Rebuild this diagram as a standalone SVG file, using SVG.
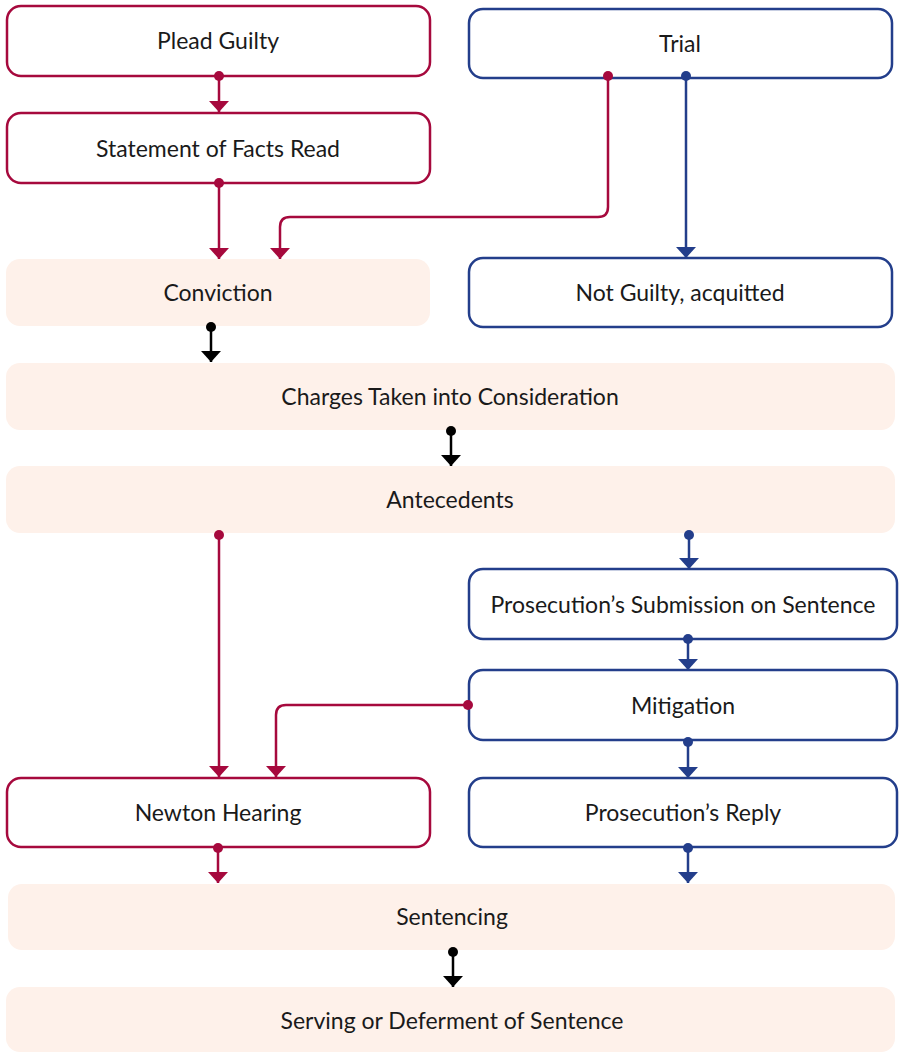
<svg xmlns="http://www.w3.org/2000/svg" width="900" height="1053" viewBox="0 0 900 1053">
<style>
.r{fill:#fff;stroke:#A6093D;stroke-width:2.5}
.b{fill:#fff;stroke:#233E8B;stroke-width:2.5}
.f{fill:#FEF1EA;stroke:none}
text{font-family:Lato,"Open Sans","Liberation Sans",sans-serif;font-size:23px;fill:#1a1a1a;text-anchor:middle;dominant-baseline:central}
.cr{fill:none;stroke:#A6093D;stroke-width:2.5}
.cb{fill:none;stroke:#233E8B;stroke-width:2.5}
.ck{fill:none;stroke:#000;stroke-width:2.5}
</style>
<defs>
<marker id="arR" viewBox="0 -11 12 22" refX="11" refY="0" markerWidth="12" markerHeight="22" markerUnits="userSpaceOnUse" orient="auto"><path d="M0,-10 L11,0 L0,10 z" fill="#A6093D"/></marker>
<marker id="arB" viewBox="0 -11 12 22" refX="11" refY="0" markerWidth="12" markerHeight="22" markerUnits="userSpaceOnUse" orient="auto"><path d="M0,-10 L11,0 L0,10 z" fill="#233E8B"/></marker>
<marker id="arK" viewBox="0 -11 12 22" refX="11" refY="0" markerWidth="12" markerHeight="22" markerUnits="userSpaceOnUse" orient="auto"><path d="M0,-10 L11,0 L0,10 z" fill="#000"/></marker>
<marker id="dR" viewBox="-6 -6 12 12" refX="0" refY="0" markerWidth="12" markerHeight="12" markerUnits="userSpaceOnUse"><circle r="5" fill="#A6093D"/></marker>
<marker id="dB" viewBox="-6 -6 12 12" refX="0" refY="0" markerWidth="12" markerHeight="12" markerUnits="userSpaceOnUse"><circle r="5" fill="#233E8B"/></marker>
<marker id="dK" viewBox="-6 -6 12 12" refX="0" refY="0" markerWidth="12" markerHeight="12" markerUnits="userSpaceOnUse"><circle r="5" fill="#000"/></marker>
</defs>
<g id="plead-guilty"><rect class="r" x="7" y="6" width="423" height="70" rx="14"/><text x="218" y="40">Plead Guilty</text></g>
<g id="trial"><rect class="b" x="469" y="9" width="423" height="69" rx="14"/><text x="680" y="43">Trial</text></g>
<g id="statement"><rect class="r" x="7" y="113" width="423" height="70" rx="14"/><text x="218" y="148">Statement of Facts Read</text></g>
<g id="conviction"><rect class="f" x="6" y="259" width="424" height="67" rx="14"/><text x="218" y="292">Conviction</text></g>
<g id="not-guilty"><rect class="b" x="469" y="258" width="423" height="69" rx="14"/><text x="680" y="292">Not Guilty, acquitted</text></g>
<g id="charges"><rect class="f" x="6" y="363" width="889" height="67" rx="14"/><text x="450" y="396">Charges Taken into Consideration</text></g>
<g id="antecedents"><rect class="f" x="6" y="466" width="889" height="67" rx="14"/><text x="450" y="499">Antecedents</text></g>
<g id="prosecution-submission"><rect class="b" x="469" y="569" width="428" height="70" rx="14"/><text x="683" y="604">Prosecution’s Submission on Sentence</text></g>
<g id="mitigation"><rect class="b" x="469" y="670" width="428" height="70" rx="14"/><text x="683" y="705">Mitigation</text></g>
<g id="newton-hearing"><rect class="r" x="7" y="778" width="423" height="69" rx="14"/><text x="218" y="812">Newton Hearing</text></g>
<g id="prosecution-reply"><rect class="b" x="469" y="778" width="428" height="69" rx="14"/><text x="683" y="812">Prosecution’s Reply</text></g>
<g id="sentencing"><rect class="f" x="8" y="884" width="887" height="66" rx="14"/><text x="452" y="916">Sentencing</text></g>
<g id="serving"><rect class="f" x="6" y="987" width="889" height="65" rx="14"/><text x="452" y="1020">Serving or Deferment of Sentence</text></g>
<g id="connectors">
<path class="cr" d="M219,76 V112" marker-start="url(#dR)" marker-end="url(#arR)"/>
<path class="cr" d="M219,183 V259" marker-start="url(#dR)" marker-end="url(#arR)"/>
<path class="cr" d="M608,76 V207 Q608,217 598,217 H290 Q280,217 280,227 V259" marker-start="url(#dR)" marker-end="url(#arR)"/>
<path class="cb" d="M686,76 V258" marker-start="url(#dB)" marker-end="url(#arB)"/>
<path class="ck" d="M211,327 V362" marker-start="url(#dK)" marker-end="url(#arK)"/>
<path class="ck" d="M451,431 V466" marker-start="url(#dK)" marker-end="url(#arK)"/>
<path class="cr" d="M219,535 V777" marker-start="url(#dR)" marker-end="url(#arR)"/>
<path class="cb" d="M689,535 V569" marker-start="url(#dB)" marker-end="url(#arB)"/>
<path class="cb" d="M688,639 V670" marker-start="url(#dB)" marker-end="url(#arB)"/>
<path class="cr" d="M468,705 H286 Q276,705 276,715 V777" marker-start="url(#dR)" marker-end="url(#arR)"/>
<path class="cb" d="M688,742 V778" marker-start="url(#dB)" marker-end="url(#arB)"/>
<path class="cr" d="M218,848 V883" marker-start="url(#dR)" marker-end="url(#arR)"/>
<path class="cb" d="M688,848 V883" marker-start="url(#dB)" marker-end="url(#arB)"/>
<path class="ck" d="M453,952 V987" marker-start="url(#dK)" marker-end="url(#arK)"/>
</g>
</svg>
